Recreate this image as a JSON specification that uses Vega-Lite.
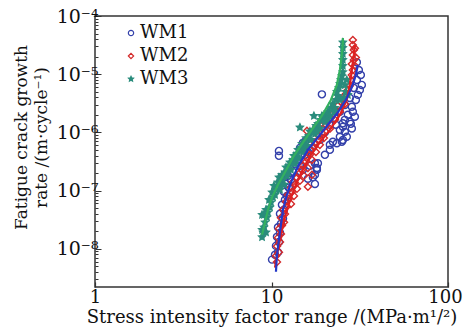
{
  "$schema": "https://vega.github.io/schema/vega-lite/v6.json",
  "width": 353,
  "height": 271,
  "autosize": {"type": "none"},
  "padding": {"left": 95, "top": 16, "right": 16, "bottom": 46},
  "background": "white",
  "config": {
    "font": "DejaVu Serif",
    "view": {"stroke": "#333333", "strokeWidth": 1.5},
    "axis": {"domain": false, "grid": false, "labelFont": "DejaVu Serif", "titleFont": "DejaVu Serif", "labelColor": "#111", "titleColor": "#111", "titleFontWeight": "normal", "tickColor": "#333"},
    "legend": {"labelFont": "DejaVu Serif"}
  },
  "datasets": {
    "pts": [
      {"s":"WM1","k":10.07,"r":6.5e-9},{"s":"WM1","k":10.47,"r":7.9e-9},{"s":"WM1","k":10.88,"r":8.7e-9},{"s":"WM1","k":10.6,"r":1.12e-8},
      {"s":"WM1","k":11.02,"r":1.3e-8},{"s":"WM1","k":10.74,"r":1.6e-8},{"s":"WM1","k":11.17,"r":1.88e-8},{"s":"WM1","k":10.88,"r":2.34e-8},
      {"s":"WM1","k":11.31,"r":2.68e-8},{"s":"WM1","k":11.62,"r":3.3e-8},{"s":"WM1","k":11.17,"r":3.99e-8},{"s":"WM1","k":11.77,"r":4.68e-8},
      {"s":"WM1","k":11.46,"r":5.69e-8},{"s":"WM1","k":11.92,"r":6.94e-8},{"s":"WM1","k":12.23,"r":8.1e-8},{"s":"WM1","k":11.77,"r":9.5e-8},
      {"s":"WM1","k":12.55,"r":1.12e-7},{"s":"WM1","k":12.08,"r":1.31e-7},{"s":"WM1","k":12.89,"r":1.53e-7},{"s":"WM1","k":12.39,"r":1.79e-7},
      {"s":"WM1","k":13.23,"r":2.1e-7},{"s":"WM1","k":13.76,"r":1.72e-7},{"s":"WM1","k":12.72,"r":2.45e-7},{"s":"WM1","k":13.58,"r":2.88e-7},
      {"s":"WM1","k":14.12,"r":3.37e-7},{"s":"WM1","k":14.49,"r":2.66e-7},{"s":"WM1","k":15.07,"r":2.27e-7},{"s":"WM1","k":17.62,"r":1.86e-7},
      {"s":"WM1","k":18.08,"r":2.45e-7},{"s":"WM1","k":18.32,"r":2.94e-7},{"s":"WM1","k":20.07,"r":4.11e-7},{"s":"WM1","k":21.42,"r":5.01e-7},
      {"s":"WM1","k":23.46,"r":6.5e-7},{"s":"WM1","k":24.4,"r":8.4e-7},{"s":"WM1","k":24.4,"r":1.1e-6},{"s":"WM1","k":25.37,"r":1.43e-6},
      {"s":"WM1","k":26.04,"r":1.64e-6},{"s":"WM1","k":14.49,"r":5.4e-7},{"s":"WM1","k":15.07,"r":6.6e-7},{"s":"WM1","k":16.08,"r":4.6e-7},
      {"s":"WM1","k":16.94,"r":5.4e-7},{"s":"WM1","k":28.52,"r":2.75e-6},{"s":"WM1","k":28.9,"r":2.26e-6},{"s":"WM1","k":29.67,"r":1.86e-6},
      {"s":"WM1","k":25.37,"r":1.25e-6},{"s":"WM1","k":26.04,"r":1.02e-6},{"s":"WM1","k":25.04,"r":6.9e-7},{"s":"WM1","k":22.27,"r":6.9e-7},
      {"s":"WM1","k":21.42,"r":6.1e-7},{"s":"WM1","k":17.62,"r":2.94e-7},{"s":"WM1","k":18.08,"r":2.27e-7},{"s":"WM1","k":17.16,"r":1.69e-7},
      {"s":"WM1","k":17.62,"r":1.3e-7},{"s":"WM1","k":15.47,"r":6.98e-7},{"s":"WM1","k":30.45,"r":7.96e-6},{"s":"WM1","k":31.66,"r":5.37e-6},
      {"s":"WM1","k":30.05,"r":3.61e-6},{"s":"WM1","k":30.84,"r":4.41e-6},{"s":"WM1","k":32.07,"r":9.7e-6},{"s":"WM1","k":31.25,"r":1.18e-5},
      {"s":"WM1","k":30.45,"r":1.6e-5},{"s":"WM1","k":32.49,"r":6.53e-6},{"s":"WM1","k":19.3,"r":4.5e-6},{"s":"WM1","k":11.02,"r":4.8e-7},
      {"s":"WM1","k":11.02,"r":3.95e-7},{"s":"WM1","k":15.47,"r":4.11e-7},{"s":"WM1","k":16.51,"r":5.01e-7},{"s":"WM1","k":18.8,"r":7.43e-7},
      {"s":"WM1","k":20.07,"r":1.0e-6},{"s":"WM1","k":21.42,"r":1.35e-6},{"s":"WM1","k":22.86,"r":1.77e-6},{"s":"WM1","k":24.4,"r":2.26e-6},
      {"s":"WM1","k":26.04,"r":2.96e-6},{"s":"WM1","k":27.79,"r":3.91e-6},{"s":"WM1","k":29.28,"r":5.8e-6},{"s":"WM1","k":27.08,"r":2.0e-6},
      {"s":"WM1","k":27.79,"r":1.52e-6},{"s":"WM1","k":23.16,"r":1.35e-6},{"s":"WM1","k":25.37,"r":7.4e-7},{"s":"WM1","k":26.7,"r":8.4e-7},
      {"s":"WM1","k":28.52,"r":1.17e-6},{"s":"WM1","k":28.15,"r":1.4e-6},{"s":"WM1","k":16.08,"r":1.6e-7},{"s":"WM1","k":16.51,"r":2.66e-7},
      {"s":"WM2","k":10.74,"r":5.9e-9},{"s":"WM2","k":10.6,"r":7.5e-9},{"s":"WM2","k":11.02,"r":8.7e-9},{"s":"WM2","k":10.74,"r":1.1e-8},
      {"s":"WM2","k":11.17,"r":1.3e-8},{"s":"WM2","k":10.88,"r":1.55e-8},{"s":"WM2","k":11.31,"r":1.8e-8},{"s":"WM2","k":11.02,"r":2.2e-8},
      {"s":"WM2","k":11.46,"r":2.5e-8},{"s":"WM2","k":11.77,"r":2.85e-8},{"s":"WM2","k":11.31,"r":3.4e-8},{"s":"WM2","k":11.92,"r":3.95e-8},
      {"s":"WM2","k":11.62,"r":4.68e-8},{"s":"WM2","k":12.23,"r":5.3e-8},{"s":"WM2","k":12.08,"r":6.4e-8},{"s":"WM2","k":12.55,"r":7.2e-8},
      {"s":"WM2","k":12.89,"r":5.9e-8},{"s":"WM2","k":12.39,"r":8.46e-8},{"s":"WM2","k":13.06,"r":9.5e-8},{"s":"WM2","k":13.4,"r":8.1e-8},
      {"s":"WM2","k":12.89,"r":1.12e-7},{"s":"WM2","k":13.58,"r":1.26e-7},{"s":"WM2","k":13.94,"r":1.07e-7},{"s":"WM2","k":13.23,"r":1.41e-7},
      {"s":"WM2","k":13.94,"r":1.66e-7},{"s":"WM2","k":14.49,"r":1.47e-7},{"s":"WM2","k":14.3,"r":1.93e-7},{"s":"WM2","k":14.87,"r":2.27e-7},
      {"s":"WM2","k":15.27,"r":1.79e-7},{"s":"WM2","k":16.94,"r":1.86e-7},{"s":"WM2","k":16.08,"r":1.16e-7},{"s":"WM2","k":15.07,"r":2.66e-7},
      {"s":"WM2","k":15.67,"r":3.12e-7},{"s":"WM2","k":16.08,"r":2.45e-7},{"s":"WM2","k":15.88,"r":3.6e-7},{"s":"WM2","k":16.51,"r":4.11e-7},
      {"s":"WM2","k":16.94,"r":3.37e-7},{"s":"WM2","k":16.72,"r":5.01e-7},{"s":"WM2","k":17.39,"r":5.6e-7},{"s":"WM2","k":17.85,"r":4.6e-7},
      {"s":"WM2","k":17.62,"r":6.6e-7},{"s":"WM2","k":18.32,"r":7.43e-7},{"s":"WM2","k":18.8,"r":6.1e-7},{"s":"WM2","k":18.56,"r":8.7e-7},
      {"s":"WM2","k":19.3,"r":9.8e-7},{"s":"WM2","k":19.81,"r":8.0e-7},{"s":"WM2","k":15.88,"r":1.06e-6},{"s":"WM2","k":18.8,"r":1.35e-6},
      {"s":"WM2","k":20.6,"r":1.92e-6},{"s":"WM2","k":19.55,"r":1.17e-6},{"s":"WM2","k":20.33,"r":1.3e-6},{"s":"WM2","k":20.87,"r":1.52e-6},
      {"s":"WM2","k":21.42,"r":1.15e-6},{"s":"WM2","k":21.7,"r":1.77e-6},{"s":"WM2","k":22.27,"r":2.08e-6},{"s":"WM2","k":22.86,"r":1.64e-6},
      {"s":"WM2","k":23.16,"r":2.43e-6},{"s":"WM2","k":23.77,"r":2.86e-6},{"s":"WM2","k":24.4,"r":2.26e-6},{"s":"WM2","k":24.72,"r":3.33e-6},
      {"s":"WM2","k":25.37,"r":3.91e-6},{"s":"WM2","k":26.04,"r":3.07e-6},{"s":"WM2","k":26.38,"r":4.58e-6},{"s":"WM2","k":27.08,"r":5.37e-6},
      {"s":"WM2","k":27.79,"r":6.3e-6},{"s":"WM2","k":28.15,"r":7.96e-6},{"s":"WM2","k":28.52,"r":9.7e-6},{"s":"WM2","k":28.9,"r":1.18e-5},
      {"s":"WM2","k":28.52,"r":1.5e-5},{"s":"WM2","k":29.28,"r":1.76e-5},{"s":"WM2","k":28.9,"r":2.14e-5},{"s":"WM2","k":29.28,"r":2.61e-5},
      {"s":"WM2","k":28.9,"r":3.18e-5},{"s":"WM2","k":28.9,"r":3.87e-5},{"s":"WM2","k":29.67,"r":1.39e-5},{"s":"WM2","k":30.05,"r":1.94e-5},
      {"s":"WM2","k":29.67,"r":2.78e-5},
      {"s":"WM3","k":8.84,"r":1.58e-8},{"s":"WM3","k":8.96,"r":1.92e-8},{"s":"WM3","k":9.07,"r":2.34e-8},{"s":"WM3","k":8.84,"r":2.12e-8},
      {"s":"WM3","k":9.31,"r":1.92e-8},{"s":"WM3","k":9.19,"r":2.85e-8},{"s":"WM3","k":9.43,"r":3.48e-8},{"s":"WM3","k":9.07,"r":3.84e-8},
      {"s":"WM3","k":9.55,"r":4.24e-8},{"s":"WM3","k":9.81,"r":5.16e-8},{"s":"WM3","k":9.31,"r":4.68e-8},{"s":"WM3","k":9.94,"r":6.29e-8},
      {"s":"WM3","k":9.68,"r":6.94e-8},{"s":"WM3","k":10.2,"r":7.66e-8},{"s":"WM3","k":10.07,"r":9.34e-8},{"s":"WM3","k":10.47,"r":8.46e-8},
      {"s":"WM3","k":10.6,"r":1.03e-7},{"s":"WM3","k":10.33,"r":1.21e-7},{"s":"WM3","k":10.88,"r":1.39e-7},{"s":"WM3","k":11.17,"r":1.21e-7},
      {"s":"WM3","k":11.02,"r":1.69e-7},{"s":"WM3","k":11.6,"r":1.53e-7},{"s":"WM3","k":11.46,"r":1.86e-7},{"s":"WM3","k":11.92,"r":2.06e-7},
      {"s":"WM3","k":12.23,"r":1.79e-7},{"s":"WM3","k":12.08,"r":2.51e-7},{"s":"WM3","k":12.55,"r":2.66e-7},{"s":"WM3","k":12.89,"r":2.27e-7},
      {"s":"WM3","k":12.72,"r":3.06e-7},{"s":"WM3","k":13.23,"r":3.37e-7},{"s":"WM3","k":13.58,"r":2.88e-7},{"s":"WM3","k":13.4,"r":3.95e-7},
      {"s":"WM3","k":13.94,"r":4.27e-7},{"s":"WM3","k":14.3,"r":3.6e-7},{"s":"WM3","k":14.12,"r":5.01e-7},{"s":"WM3","k":14.68,"r":5.4e-7},
      {"s":"WM3","k":15.07,"r":4.6e-7},{"s":"WM3","k":14.87,"r":6.35e-7},{"s":"WM3","k":15.47,"r":6.98e-7},{"s":"WM3","k":15.88,"r":5.86e-7},
      {"s":"WM3","k":15.67,"r":8.0e-7},{"s":"WM3","k":16.29,"r":8.7e-7},{"s":"WM3","k":16.72,"r":7.43e-7},{"s":"WM3","k":16.51,"r":1.04e-6},
      {"s":"WM3","k":17.16,"r":1.1e-6},{"s":"WM3","k":17.62,"r":9.4e-7},{"s":"WM3","k":17.85,"r":1.3e-6},{"s":"WM3","k":18.32,"r":1.4e-6},
      {"s":"WM3","k":18.8,"r":1.17e-6},{"s":"WM3","k":19.05,"r":1.64e-6},{"s":"WM3","k":19.55,"r":1.77e-6},{"s":"WM3","k":20.07,"r":1.52e-6},
      {"s":"WM3","k":20.33,"r":2.08e-6},{"s":"WM3","k":20.87,"r":2.26e-6},{"s":"WM3","k":21.42,"r":1.92e-6},{"s":"WM3","k":21.7,"r":2.63e-6},
      {"s":"WM3","k":22.27,"r":3.07e-6},{"s":"WM3","k":22.86,"r":2.63e-6},{"s":"WM3","k":23.16,"r":3.61e-6},{"s":"WM3","k":23.77,"r":4.24e-6},
      {"s":"WM3","k":23.46,"r":4.97e-6},{"s":"WM3","k":24.08,"r":5.8e-6},{"s":"WM3","k":24.4,"r":6.8e-6},{"s":"WM3","k":24.72,"r":7.96e-6},
      {"s":"WM3","k":25.04,"r":9.3e-6},{"s":"WM3","k":25.37,"r":1.09e-5},{"s":"WM3","k":25.37,"r":1.39e-5},{"s":"WM3","k":25.37,"r":1.76e-5},
      {"s":"WM3","k":25.37,"r":2.23e-5},{"s":"WM3","k":25.37,"r":2.83e-5},{"s":"WM3","k":25.37,"r":3.51e-5},{"s":"WM3","k":26.38,"r":4.97e-6},
      {"s":"WM3","k":25.7,"r":3.91e-6},{"s":"WM3","k":14.49,"r":1.22e-6},{"s":"WM3","k":17.39,"r":1.92e-6},{"s":"WM3","k":19.3,"r":1.92e-6},
      {"s":"WM3","k":8.84,"r":3.84e-8},{"s":"WM3","k":15.27,"r":5.4e-7},{"s":"WM3","k":13.76,"r":3.37e-7},{"s":"WM3","k":12.39,"r":2.06e-7},
      {"s":"WM3","k":11.17,"r":1.03e-7},{"s":"WM3","k":18.08,"r":1.04e-6},{"s":"WM3","k":20.6,"r":1.64e-6},{"s":"WM3","k":22.56,"r":2.26e-6},
      {"s":"WM3","k":24.4,"r":3.61e-6},{"s":"WM3","k":11.77,"r":1.26e-7},{"s":"WM3","k":26.04,"r":6.5e-6},{"s":"WM3","k":27.08,"r":4.41e-6},
      {"s":"WM3","k":26.7,"r":7.96e-6}
    ],
    "fit": [
      {"f":"WM2","k":10.47,"r":4.72e-9},{"f":"WM2","k":10.74,"r":7.9e-9},{"f":"WM2","k":11.17,"r":1.43e-8},{"f":"WM2","k":11.62,"r":2.58e-8},
      {"f":"WM2","k":12.23,"r":4.68e-8},{"f":"WM2","k":13.06,"r":8.46e-8},{"f":"WM2","k":14.12,"r":1.53e-7},{"f":"WM2","k":15.27,"r":2.51e-7},
      {"f":"WM2","k":16.72,"r":4.11e-7},{"f":"WM2","k":18.8,"r":6.73e-7},{"f":"WM2","k":21.42,"r":1.1e-6},{"f":"WM2","k":24.4,"r":2.0e-6},
      {"f":"WM2","k":26.7,"r":3.61e-6},{"f":"WM2","k":27.79,"r":6.53e-6},{"f":"WM2","k":28.52,"r":1.18e-5},{"f":"WM2","k":29.28,"r":2.14e-5},
      {"f":"WM2","k":29.67,"r":3.18e-5},
      {"f":"WM3","k":8.84,"r":1.74e-8},{"f":"WM3","k":9.19,"r":2.85e-8},{"f":"WM3","k":9.55,"r":4.68e-8},{"f":"WM3","k":10.07,"r":7.66e-8},
      {"f":"WM3","k":10.88,"r":1.26e-7},{"f":"WM3","k":11.92,"r":2.06e-7},{"f":"WM3","k":13.23,"r":3.72e-7},{"f":"WM3","k":14.87,"r":6.29e-7},
      {"f":"WM3","k":16.94,"r":1.11e-6},{"f":"WM3","k":19.3,"r":1.93e-6},{"f":"WM3","k":21.7,"r":3.61e-6},{"f":"WM3","k":23.46,"r":6.53e-6},
      {"f":"WM3","k":24.4,"r":1.18e-5},{"f":"WM3","k":25.04,"r":2.14e-5},{"f":"WM3","k":25.37,"r":3.51e-5},{"f":"WM3","k":25.37,"r":4.19e-5},
      {"f":"WM1","k":10.6,"r":4.03e-9},{"f":"WM1","k":10.74,"r":7.9e-9},{"f":"WM1","k":11.02,"r":1.43e-8},{"f":"WM1","k":11.31,"r":2.58e-8},
      {"f":"WM1","k":11.62,"r":4.68e-8},{"f":"WM1","k":12.23,"r":8.46e-8},{"f":"WM1","k":13.06,"r":1.53e-7},{"f":"WM1","k":14.3,"r":2.77e-7},
      {"f":"WM1","k":16.08,"r":5.01e-7},{"f":"WM1","k":18.32,"r":8.21e-7},{"f":"WM1","k":20.87,"r":1.35e-6},{"f":"WM1","k":23.77,"r":2.2e-6},
      {"f":"WM1","k":26.38,"r":3.61e-6},{"f":"WM1","k":28.52,"r":5.92e-6},{"f":"WM1","k":30.05,"r":9.7e-6},{"f":"WM1","k":30.84,"r":1.44e-5}
    ]
  },
  "layer": [
    {
      "data": {"name": "pts"},
      "mark": {"type": "point", "size": 50, "strokeWidth": 1.4, "opacity": 1},
      "encoding": {
        "x": {
          "field": "k", "type": "quantitative",
          "scale": {"type": "log", "domain": [1, 100], "nice": false},
          "axis": {
            "values": [1, 10, 100],
            "tickSize": -5, "tickWidth": 1.2,
            "labelFontSize": 18, "labelPadding": 6, "labelFlush": false,
            "labelOffset": {"condition": {"test": "datum.value == 100", "value": -3}, "value": 0},
            "title": "Stress intensity factor range /(MPa·m¹/²)",
            "titleFontSize": 18, "titlePadding": 2
          }
        },
        "y": {
          "field": "r", "type": "quantitative",
          "scale": {"type": "log", "domain": [2.2e-9, 1e-4], "nice": false},
          "axis": {
            "values": [3e-9,4e-9,5e-9,6e-9,7e-9,8e-9,9e-9,1e-8,2e-8,3e-8,4e-8,5e-8,6e-8,7e-8,8e-8,9e-8,1e-7,2e-7,3e-7,4e-7,5e-7,6e-7,7e-7,8e-7,9e-7,1e-6,2e-6,3e-6,4e-6,5e-6,6e-6,7e-6,8e-6,9e-6,1e-5,2e-5,3e-5,4e-5,5e-5,6e-5,7e-5,8e-5,9e-5,1e-4],
            "tickSize": {"condition": {"test": "abs(log(datum.value)/LN10 - round(log(datum.value)/LN10)) < 1e-6", "value": -6}, "value": -3},
            "tickWidth": 1,
            "labelExpr": "abs(log(datum.value)/LN10 - round(log(datum.value)/LN10)) < 1e-6 ? '10' + ['⁻⁸','⁻⁷','⁻⁶','⁻⁵','⁻⁴'][round(log(datum.value)/LN10)+8] : ''",
            "labelFontSize": 19, "labelPadding": 3, "labelFlush": false,
            "title": ["Fatigue crack growth", "rate /(m·cycle⁻¹)"],
            "titleFontSize": 17, "titlePadding": 6, "titleLineHeight": 20, "titleY": 121
          }
        },
        "color": {
          "field": "s", "type": "nominal",
          "scale": {"domain": ["WM1", "WM2", "WM3"], "range": ["#3340aa", "#d42a2a", "#2a8c7c"]},
          "legend": {
            "title": null, "orient": "none", "legendX": 27, "legendY": 8,
            "labelFontSize": 18, "labelColor": "#111",
            "symbolSize": 28, "symbolStrokeWidth": 1.2, "rowPadding": 5, "labelOffset": 0, "symbolOffset": 0
          }
        },
        "shape": {
          "field": "s", "type": "nominal",
          "scale": {"domain": ["WM1", "WM2", "WM3"], "range": ["circle", "diamond", "M0,-1L0.29,-0.4L0.95,-0.31L0.47,0.15L0.59,0.81L0,0.5L-0.59,0.81L-0.47,0.15L-0.95,-0.31L-0.29,-0.4Z"]}
        },
        "fill": {
          "field": "s", "type": "nominal",
          "scale": {"domain": ["WM1", "WM2", "WM3"], "range": ["transparent", "transparent", "#2a8c7c"]}
        }
      }
    },
    {
      "data": {"name": "fit"},
      "mark": {"type": "line", "strokeWidth": 2.2},
      "encoding": {
        "x": {"field": "k", "type": "quantitative"},
        "y": {"field": "r", "type": "quantitative"},
        "detail": {"field": "f", "type": "nominal"},
        "stroke": {
          "field": "f", "type": "nominal",
          "scale": {"domain": ["WM2", "WM3", "WM1"], "range": ["#e02020", "#33b060", "#2438c8"]},
          "legend": null
        }
      }
    }
  ]
}
